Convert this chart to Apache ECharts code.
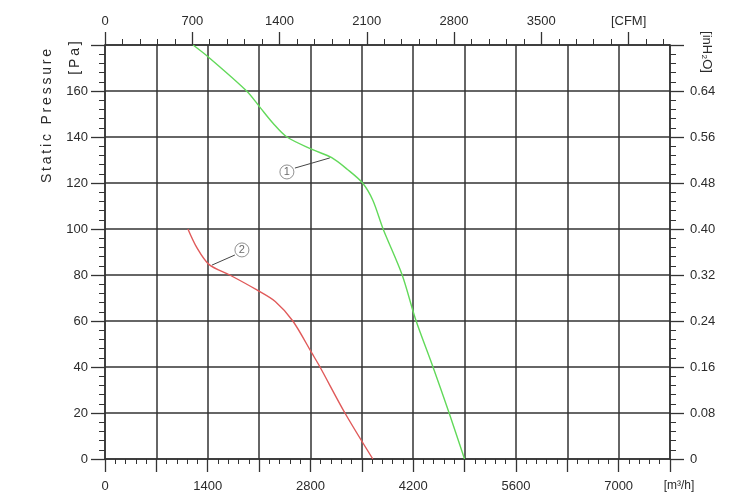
<!DOCTYPE html>
<html>
<head>
<meta charset="utf-8">
<script src="https://cdn.jsdelivr.net/npm/echarts@6/dist/echarts.min.js"></script>
<style>html,body{margin:0;padding:0;background:#fff}#c{width:732px;height:498px}</style>
</head>
<body>
<div id="c"></div>
<script>
// ---- data ----
const curve1 = [[1200,180],[1400,175],[1930,160],[2110,153],[2290,146],[2480,140],[2830,134.5],[3090,131],[3300,126],[3510,120],[3650,112.5],[3790,100],[4050,80],[4230,61],[4470,40],[4690,20],[4900,0]];
const curve2 = [[1130,100],[1250,92],[1420,84.5],[1700,80],[2070,73.5],[2320,68.5],[2560,60],[2820,46],[2930,40],[3270,20],[3650,0]];
const calloutNames = ['1','2'];
const calloutCircles = [[2479,124.8],[1866,90.9]];
const calloutLeaders = [[[2588,126.5],[3064,130.9]],[[1770,88.7],[1457,84.3]]];
const flowLabels = [0,1400,2800,4200,5600,7000];
const flowUnit = '[m³/h]';
const cfmTicks = [0,700,1400,2100,2800,3500,4200];
const cfmLabels = ['0','700','1400','2100','2800','3500','[CFM]'];
const paLabels = [0,20,40,60,80,100,120,140,160];
const inh2oLabels = ['0','0.08','0.16','0.24','0.32','0.40','0.48','0.56','0.64'];
const CFM_TO_M3H = 1.699;
const FLOW_MAX = 7700, PA_MAX = 180, INH2O_MAX = 0.72;

const FONT = "'Liberation Sans', Arial, sans-serif";
const TXT = '#2b2b2b';
const LINE = '#333';
const spaced = s => s.split('').join('\u2009');

const chart = echarts.init(document.getElementById('c'), null, {renderer: 'canvas'});

const leaderSeries = calloutLeaders.map(seg => ({
  type: 'line', data: seg, xAxisIndex: 0, yAxisIndex: 0, symbol: 'none', silent: true,
  lineStyle: {color: '#444', width: 1}, z: 4, animation: false
}));

const axisLine = {show: true, onZero: false, lineStyle: {color: LINE, width: 1.5}};

chart.setOption({
  animation: false,
  grid: {left: 105, right: 62, top: 45, bottom: 39, containLabel: false},
  textStyle: {fontFamily: FONT},
  xAxis: [
    {
      type: 'value', position: 'bottom', min: 0, max: FLOW_MAX, interval: 700,
      axisLine: axisLine,
      axisTick: {show: true, inside: false, length: 13, lineStyle: {color: LINE, width: 1.3}},
      minorTick: {show: true, splitNumber: 5, length: 5, lineStyle: {color: LINE, width: 1}},
      splitLine: {show: true, lineStyle: {color: LINE, width: 1.5}},
      axisLabel: {
        show: true, margin: 21, color: TXT, fontSize: 13, fontFamily: FONT,
        showMinLabel: true, showMaxLabel: true,
        formatter: v => v === FLOW_MAX ? '{u|' + flowUnit + '}' : (flowLabels.indexOf(v) >= 0 ? String(v) : ''),
        rich: {u: {fontSize: 12, color: TXT, fontFamily: FONT, padding: [0, 0, 0, 18]}}
      }
    },
    {
      type: 'value', position: 'top', min: 0, max: FLOW_MAX / CFM_TO_M3H, interval: 700,
      axisLine: axisLine,
      axisTick: {show: true, inside: false, length: 13, customValues: cfmTicks, lineStyle: {color: LINE, width: 1.3}},
      minorTick: {show: true, splitNumber: 5, length: 6, lineStyle: {color: LINE, width: 1}},
      splitLine: {show: false},
      axisLabel: {
        show: true, margin: 17, color: TXT, fontSize: 13, fontFamily: FONT,
        customValues: cfmTicks,
        formatter: v => { const i = cfmTicks.indexOf(Math.round(v)); return i >= 0 ? cfmLabels[i] : ''; }
      }
    }
  ],
  yAxis: [
    {
      type: 'value', position: 'left', min: 0, max: PA_MAX, interval: 20,
      axisLine: axisLine,
      axisTick: {show: true, inside: false, length: 14, lineStyle: {color: LINE, width: 1.3}},
      minorTick: {show: true, splitNumber: 5, length: 6, lineStyle: {color: LINE, width: 1}},
      splitLine: {show: true, lineStyle: {color: LINE, width: 1.5}},
      axisLabel: {
        show: true, margin: 17, color: TXT, fontSize: 13, fontFamily: FONT,
        showMaxLabel: false,
        formatter: v => paLabels.indexOf(v) >= 0 ? String(v) : ''
      }
    },
    {
      type: 'value', position: 'right', min: 0, max: INH2O_MAX, interval: 0.08,
      axisLine: axisLine,
      axisTick: {show: true, inside: false, length: 14, lineStyle: {color: LINE, width: 1.3}},
      minorTick: {show: true, splitNumber: 5, length: 6, lineStyle: {color: LINE, width: 1}},
      splitLine: {show: false},
      axisLabel: {
        show: true, margin: 20, color: TXT, fontSize: 13, fontFamily: FONT,
        showMaxLabel: false,
        formatter: v => { const i = Math.round(v / 0.08); return i < inh2oLabels.length ? inh2oLabels[i] : ''; }
      }
    }
  ],
  series: [
    {
      type: 'line', name: '1', data: curve1, xAxisIndex: 0, yAxisIndex: 0,
      symbol: 'none', smooth: 0.3, lineStyle: {color: '#62d95a', width: 1.4}, z: 3
    },
    {
      type: 'line', name: '2', data: curve2, xAxisIndex: 0, yAxisIndex: 0,
      symbol: 'none', smooth: 0.3, lineStyle: {color: '#e05a5a', width: 1.4}, z: 3
    },
    ...leaderSeries,
    {
      type: 'scatter', xAxisIndex: 0, yAxisIndex: 0, symbol: 'circle', symbolSize: 14, z: 5,
      data: calloutCircles.map((p, i) => ({value: p, name: calloutNames[i]})),
      itemStyle: {color: '#fff', borderColor: '#666', borderWidth: 0.9},
      label: {show: true, position: 'inside', formatter: p => p.name, color: '#444', fontSize: 11, fontFamily: FONT}
    }
  ],
  graphic: [
    {type: 'text', x: 47, y: 116, rotation: Math.PI / 2,
     style: {text: spaced('Static Pressure'), font: '14px ' + FONT, fill: TXT, align: 'center', verticalAlign: 'middle'}},
    {type: 'text', x: 75, y: 58, rotation: Math.PI / 2,
     style: {text: spaced('[Pa]'), font: '14px ' + FONT, fill: TXT, align: 'center', verticalAlign: 'middle'}},
    {type: 'text', x: 707, y: 52, rotation: -Math.PI / 2,
     style: {text: '[inH₂O]', font: '13px ' + FONT, fill: TXT, align: 'center', verticalAlign: 'middle'}}
  ]
});
</script>
</body>
</html>
